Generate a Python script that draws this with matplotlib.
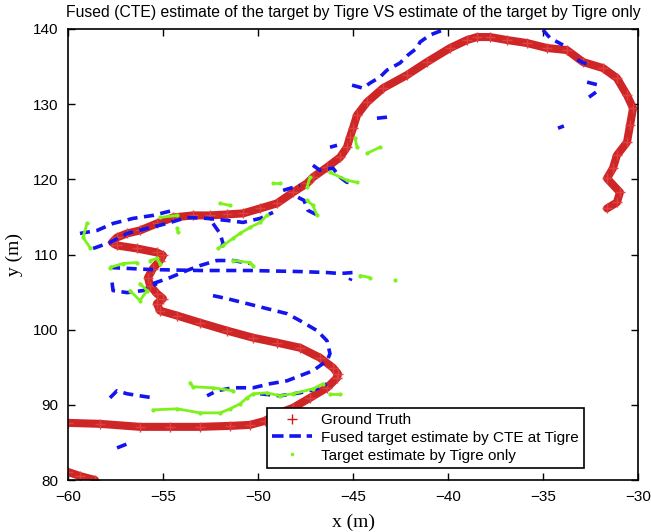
import numpy as np
import matplotlib
matplotlib.use("Agg")
import matplotlib.pyplot as plt
from matplotlib.lines import Line2D

# ---------------- data (x [m], y [m]) ----------------
truth_main_x = [-60.0, -58.32, -56.21, -54.63, -53.05, -51.47, -50.42, -49.63, -49.0, -48.16,
                -47.26, -46.37, -45.84, -45.79, -46.05, -46.74, -47.79, -49.0, -50.26, -51.63,
                -53.05, -54.26, -55.16, -55.32, -55.0, -55.32, -55.68, -55.79, -55.53, -55.16,
                -55.0, -55.32, -56.37, -57.42, -57.68, -57.42, -56.89, -56.21, -55.32, -54.47,
                -53.42, -52.53, -51.63, -50.79, -49.89, -49.0, -48.16, -47.42, -47.11, -46.37,
                -45.68, -45.32, -45.16, -45.0, -44.79, -44.26, -43.42, -42.16, -41.11, -39.89,
                -39.0, -38.47, -37.79, -36.89, -35.84, -34.79, -33.74, -32.89, -31.84, -31.11,
                -30.58, -30.26, -30.42, -30.58, -31.11, -31.32, -31.63, -30.95, -31.11, -31.63]
truth_main_y = [87.6, 87.47, 87.07, 87.07, 87.07, 87.2, 87.33, 87.87, 88.8, 89.6,
                90.93, 92.27, 93.6, 94.13, 94.93, 96.27, 97.6, 98.27, 98.93, 99.87,
                100.93, 101.87, 102.53, 103.47, 104.13, 104.8, 105.87, 106.93, 108.13, 109.2,
                109.87, 110.27, 110.8, 111.2, 111.6, 112.27, 112.8, 113.2, 114.13, 114.93,
                115.2, 115.2, 115.33, 115.47, 116.13, 116.8, 118.27, 119.47, 120.27, 121.6,
                122.93, 124.27, 125.6, 126.8, 128.53, 130.27, 132.13, 133.87, 135.6, 137.47,
                138.53, 138.93, 138.93, 138.53, 138.13, 137.47, 137.2, 135.6, 134.8, 133.47,
                131.2, 129.47, 127.2, 124.93, 123.2, 121.47, 120.13, 118.27, 116.93, 116.13]
truth_tail_x = [-60.0, -59.37, -58.58]
truth_tail_y = [81.07, 80.53, 80.0]

# Fused (CTE) estimate segments
fused_top_arc = [(-45.05, 132.53), (-44.47, 132.13), (-44.11, 132.8), (-43.58, 133.6), (-43.21, 134.53),
                 (-42.53, 135.47), (-42.11, 136.53), (-41.63, 137.47), (-41.47, 138.27), (-40.95, 139.2),
                 (-40.26, 139.87)]
fused_top_right = [(-35.0, 139.87), (-34.63, 138.8), (-33.95, 137.87)]
fused_right_a = [(-33.2, 135.9), (-32.6, 135.2)]
fused_right_b = [(-32.68, 132.93), (-32.05, 132.53)]
fused_right_c = [(-32.21, 131.6), (-32.58, 130.93)]
fused_right_d = [(-34.21, 126.8), (-33.9, 127.1)]
fused_inner_a = [(-43.74, 128.13), (-43.21, 128.27)]
fused_inner_b = [(-46.21, 124.27), (-45.84, 124.53)]
fused_inner_c = [(-47.11, 121.87), (-46.74, 121.2), (-46.05, 121.47), (-45.68, 120.27),
                 (-45.32, 119.6), (-45.0, 119.6)]
fused_cross_a = [(-48.68, 118.53), (-47.79, 119.2)]
fused_cross_b = [(-47.89, 117.6), (-47.58, 117.2), (-47.37, 115.87), (-46.84, 115.2)]
fused_upper_1 = [(-59.37, 112.8), (-58.47, 113.2), (-57.63, 114.13), (-56.58, 114.8),
                 (-55.53, 115.2), (-54.47, 115.87)]
fused_upper_2 = [(-58.68, 110.8), (-57.79, 111.6), (-56.89, 112.8), (-55.84, 113.47),
                 (-54.79, 114.13), (-53.74, 114.93), (-52.68, 114.8), (-51.63, 114.53),
                 (-50.79, 114.27), (-49.89, 114.8), (-49.21, 115.6)]
fused_drop = [(-52.37, 114.13), (-52.0, 112.8), (-51.84, 111.47), (-52.0, 110.53)]
fused_mid_line = [(-57.79, 108.27), (-55.68, 108.0), (-53.05, 107.87), (-50.42, 107.87),
                  (-47.79, 107.73), (-46.37, 107.6), (-45.68, 107.47), (-45.0, 107.6), (-45.16, 106.53)]
fused_rise = [(-55.53, 106.13), (-54.63, 106.93), (-53.74, 107.87), (-53.05, 108.53),
              (-52.16, 109.2), (-51.32, 109.2), (-50.42, 108.8)]
fused_small_loop = [(-57.68, 106.27), (-57.63, 105.2), (-56.89, 104.93), (-56.05, 105.2), (-55.32, 106.13)]
fused_big_loop = [(-52.37, 104.53), (-51.63, 104.13), (-50.58, 103.47), (-49.53, 102.8),
                  (-48.47, 102.13), (-47.79, 101.2), (-46.89, 99.87), (-46.37, 98.53), (-46.21, 96.8),
                  (-46.37, 95.87), (-47.11, 94.53), (-47.79, 93.87), (-48.47, 93.2), (-49.37, 92.8),
                  (-50.26, 92.27), (-51.32, 92.27), (-52.16, 91.87), (-52.68, 91.2)]
fused_low_right = [(-49.89, 91.47), (-48.84, 91.2), (-47.79, 91.6), (-46.89, 92.13), (-46.37, 92.8)]
fused_low_left = [(-57.79, 90.93), (-57.42, 91.87), (-56.89, 91.47), (-56.21, 91.2), (-55.53, 90.93)]
fused_bottom = [(-57.42, 84.27), (-56.89, 84.8)]

fused_segments = [fused_top_arc, fused_top_right, fused_right_a, fused_right_b, fused_right_c,
                  fused_right_d, fused_inner_a, fused_inner_b, fused_inner_c, fused_cross_a,
                  fused_cross_b, fused_upper_1, fused_upper_2, fused_drop, fused_mid_line,
                  fused_rise, fused_small_loop, fused_big_loop, fused_low_right, fused_low_left,
                  fused_bottom]

# Tigre-only estimate segments
tigre_bottom = [(-55.53, 89.33), (-54.26, 89.47), (-53.05, 88.93), (-52.0, 88.93), (-51.47, 89.47),
                (-50.95, 90.13), (-50.58, 90.93), (-50.26, 91.47), (-49.53, 91.6), (-48.84, 91.2),
                (-48.16, 91.47), (-47.11, 92.13), (-46.58, 92.8)]
tigre_bottom_r = [(-46.21, 91.47), (-45.68, 91.47)]
tigre_scatter_low = [(-53.58, 92.93), (-53.42, 92.4), (-52.37, 92.27), (-51.32, 91.87)]
tigre_left = [(-59.0, 114.13), (-59.21, 112.27), (-58.84, 110.93)]
tigre_mid_left = [(-57.79, 108.27), (-57.11, 108.8), (-56.37, 108.93)]
tigre_loop = [(-56.74, 105.2), (-56.21, 103.87), (-55.84, 105.2), (-56.21, 106.13)]
tigre_cross = [(-55.68, 109.2), (-55.32, 109.47), (-55.16, 108.8)]
tigre_mid_right = [(-51.32, 109.2), (-50.42, 108.93), (-50.26, 108.53)]
tigre_hook = [(-54.26, 113.47), (-54.21, 112.93)]
tigre_upper = [(-55.16, 114.93), (-54.26, 115.2)]
tigre_top_a = [(-52.0, 116.8), (-51.47, 116.53)]
tigre_descend = [(-49.53, 115.2), (-49.89, 114.27), (-50.42, 113.6), (-50.95, 112.8),
                 (-51.32, 112.13), (-51.84, 111.2), (-52.11, 110.8)]
tigre_c1 = [(-49.21, 119.47), (-48.84, 119.47)]
tigre_c2 = [(-47.42, 118.93), (-47.26, 120.27)]
tigre_c3 = [(-47.42, 117.2), (-47.11, 116.53), (-46.89, 115.2)]
tigre_c4 = [(-46.21, 120.93), (-45.32, 119.87), (-44.79, 119.6)]
tigre_c5 = [(-44.89, 125.47), (-44.79, 124.27)]
tigre_c6 = [(-44.26, 123.47), (-43.58, 124.27)]
tigre_mid_end = [(-44.63, 107.2), (-44.11, 106.93)]
tigre_lone = [(-42.79, 106.67)]

tigre_segments = [tigre_bottom, tigre_bottom_r, tigre_scatter_low, tigre_left, tigre_mid_left,
                  tigre_loop, tigre_cross, tigre_mid_right, tigre_hook, tigre_upper, tigre_top_a,
                  tigre_descend, tigre_c1, tigre_c2, tigre_c3, tigre_c4, tigre_c5, tigre_c6,
                  tigre_mid_end, tigre_lone]

x_ticks = [-60, -55, -50, -45, -40, -35, -30]
y_ticks = [80, 90, 100, 110, 120, 130, 140]

title_text = "Fused (CTE) estimate of the target by Tigre VS estimate of the target by Tigre only"
legend_labels = ["Ground Truth", "Fused target estimate by CTE at Tigre", "Target estimate by Tigre only"]

# ---------------- styling ----------------
RED = "#cc1a1a"
BLUE = "#1414f0"
GREEN = "#7cf21a"
SANS = ["Liberation Sans", "DejaVu Sans"]
SERIF = ["Liberation Serif", "DejaVu Serif"]

fig = plt.figure(figsize=(6.51, 5.32), dpi=100)
ax = fig.add_axes([68 / 651, 52 / 532, 570 / 651, 451 / 532])

# Ground truth
for xs, ys in [(truth_main_x, truth_main_y), (truth_tail_x, truth_tail_y)]:
    ax.plot(xs, ys, color=RED, lw=5.8, solid_capstyle="round", solid_joinstyle="round", alpha=0.95)
    ax.plot(xs, ys, ls="none", marker="+", ms=7, mew=1.0, color="#e04040")

# Fused estimate
for seg in fused_segments:
    xs = [p[0] for p in seg]
    ys = [p[1] for p in seg]
    ax.plot(xs, ys, color=BLUE, lw=2.6, dashes=(2.8, 1.8), dash_capstyle="butt")

# Tigre-only estimate
for seg in tigre_segments:
    xs = [p[0] for p in seg]
    ys = [p[1] for p in seg]
    ax.plot(xs, ys, color=GREEN, lw=2.0, marker=".", ms=4, solid_capstyle="round")

ax.set_xlim(-60, -30)
ax.set_ylim(80, 140)
ax.set_xticks(x_ticks)
ax.set_yticks(y_ticks)
ax.set_xticklabels([f"\u2212{abs(v)}" for v in x_ticks], family=SANS, fontsize=11)
ax.set_yticklabels([str(v) for v in y_ticks], family=SANS, fontsize=11)
ax.tick_params(axis="x", direction="in", top=True, length=5, width=1, pad=7)
ax.tick_params(axis="y", direction="in", right=True, length=5, width=1, pad=7)
for s in ax.spines.values():
    s.set_linewidth(1.2)

ax.set_xlabel("x (m)", family=SERIF, fontsize=14, labelpad=7)
ax.set_ylabel("y (m)", family=SERIF, fontsize=14, labelpad=7)
ax.set_title(title_text, family=SANS, fontsize=11.3, pad=9)

handles = [
    Line2D([], [], ls="none", marker="+", ms=7, mew=1.0, color=RED),
    Line2D([], [], color=BLUE, lw=2.6, dashes=(3.2, 1.6)),
    Line2D([], [], ls="none", marker=".", ms=3, color=GREEN),
]
leg = ax.legend(handles, legend_labels, loc="lower left",
                bbox_to_anchor=((267 - 68) / 570, (480 - 468) / 451),
                prop={"family": SANS, "size": 11}, frameon=True, fancybox=False,
                framealpha=1, edgecolor="black", borderpad=0.35, labelspacing=0.25,
                handlelength=2.6, handletextpad=0.6, borderaxespad=0)
leg.get_frame().set_linewidth(1.2)

fig.savefig("out.png", dpi=100)
